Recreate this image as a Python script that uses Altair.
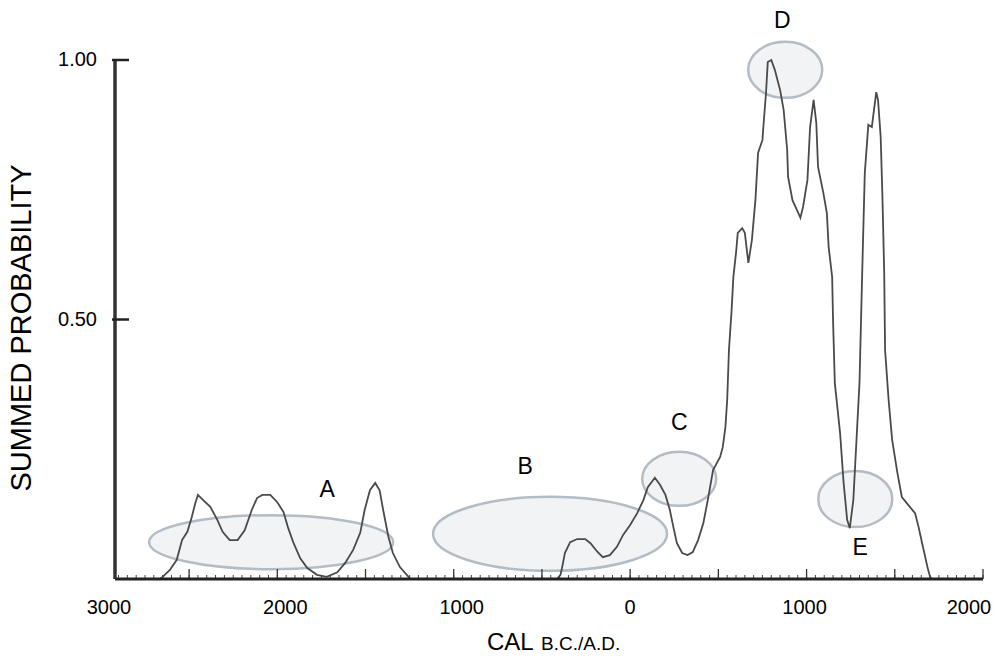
import altair as alt
import pandas as pd

FONT = "Liberation Sans, Arial, Helvetica, sans-serif"

# ---- summed probability curve (year: negative = B.C.) ----
years = [
    -2920, -2665, -2650, -2610, -2570, -2540, -2510, -2485, -2465, -2450,
    -2420, -2380, -2340, -2310, -2270, -2225, -2185, -2145, -2115, -2085,
    -2040, -2000, -1965, -1940, -1910, -1870, -1830, -1775, -1720, -1660,
    -1615, -1570, -1530, -1505, -1475, -1445, -1420, -1400, -1370, -1345,
    -1305, -1245,
    -415, -395, -385, -370, -340, -300, -255, -225, -185, -155,
    -115, -75, -40, 0, 40, 75, 100, 140, 170, 200,
    225, 245, 265, 295, 325, 355, 385, 415, 440, 470,
    510, 525, 540, 550, 560, 575, 585, 600, 610, 635,
    650, 670, 690, 710, 725, 750, 755, 770, 780, 800,
    820, 850, 870, 890, 895, 920, 945, 965, 980, 1005,
    1020, 1040, 1055, 1065, 1095, 1115, 1125, 1145, 1150, 1160,
    1190, 1210, 1230, 1245, 1265, 1285, 1300, 1310, 1320, 1330,
    1345, 1350, 1370, 1380, 1395, 1405, 1420, 1430, 1440, 1445,
    1465, 1485, 1515, 1540, 1590, 1615, 1635, 1655, 1685, 1700,
    1710, 2000,
]
prob = [
    0.0, 0.0, 0.004, 0.017, 0.037, 0.075, 0.091, 0.119, 0.146, 0.162,
    0.152, 0.139, 0.114, 0.091, 0.075, 0.075, 0.094, 0.133, 0.156, 0.162,
    0.162, 0.148, 0.129, 0.100, 0.071, 0.040, 0.021, 0.008, 0.004, 0.013,
    0.031, 0.056, 0.089, 0.133, 0.171, 0.185, 0.171, 0.133, 0.081, 0.050,
    0.023, 0.0,
    0.0, 0.008, 0.023, 0.050, 0.071, 0.077, 0.077, 0.069, 0.052, 0.042,
    0.046, 0.062, 0.085, 0.104, 0.127, 0.152, 0.177, 0.195, 0.181, 0.162,
    0.133, 0.100, 0.069, 0.050, 0.046, 0.052, 0.075, 0.108, 0.152, 0.210,
    0.235, 0.254, 0.293, 0.345, 0.441, 0.518, 0.582, 0.628, 0.667, 0.676,
    0.667, 0.609, 0.653, 0.730, 0.821, 0.846, 0.871, 0.936, 0.996, 1.000,
    0.981, 0.942, 0.904, 0.827, 0.775, 0.730, 0.711, 0.696, 0.717, 0.769,
    0.871, 0.923, 0.879, 0.794, 0.744, 0.705, 0.640, 0.582, 0.499, 0.378,
    0.281, 0.185, 0.114, 0.098, 0.152, 0.281, 0.378, 0.518, 0.653, 0.782,
    0.852, 0.875, 0.871, 0.898, 0.938, 0.923, 0.852, 0.736, 0.590, 0.441,
    0.345, 0.268, 0.204, 0.158, 0.137, 0.127, 0.100, 0.069, 0.023, 0.004,
    0.0, 0.0,
]

# ---- highlighted zones ----
zone_labels = ["A", "B", "C", "D", "E"]
zone_year = [-2035, -454, 278, 879, 1276]
zone_prob = [0.071, 0.087, 0.193, 0.981, 0.154]
zone_rx = [122, 117, 37, 37, 37]
zone_ry = [27, 37, 27, 28, 28]
letter_year = [-1718, -595, 278, 862, 1304]
letter_prob = [0.171, 0.216, 0.301, 1.076, 0.060]

# ---- axes ----
tick_label_years = [-3000, -2000, -1000, 0, 1000, 2000]
tick_label_text = ["3000", "2000", "1000", "0", "1000", "2000"]
tick_label_dx = [8, 8, 8, 0, -2, -14]
major_ticks = list(range(-2500, 2001, 500))
minor_ticks = list(range(-2900, 2001, 50))
y_ticks = [0.5, 1.0]
y_tick_text = ["0.50", "1.00"]

X_DOMAIN = [-2920, 2000]
W, H = 868, 519

xs = alt.Scale(domain=X_DOMAIN, nice=False, zero=False)
ys = alt.Scale(domain=[0, 1], nice=False, zero=False)


def ellipse_path(b, k=0.5523):
    return (f"M1,0 C1,{k*b:.4f} {k:.4f},{b:.4f} 0,{b:.4f} "
            f"C{-k:.4f},{b:.4f} -1,{k*b:.4f} -1,0 "
            f"C-1,{-k*b:.4f} {-k:.4f},{-b:.4f} 0,{-b:.4f} "
            f"C{k:.4f},{-b:.4f} 1,{-k*b:.4f} 1,0 Z")


curve = pd.DataFrame({"year": years, "p": prob})
zones = pd.DataFrame({
    "year": zone_year, "p": zone_prob,
    "size": [(2 * r) ** 2 for r in zone_rx],
    "shape": [ellipse_path(ry / rx) for rx, ry in zip(zone_rx, zone_ry)],
})
letters = pd.DataFrame({"year": letter_year, "p": letter_prob, "t": zone_labels})

X = lambda: alt.X("year:Q", scale=xs, axis=None)
Y = lambda: alt.Y("p:Q", scale=ys, axis=None)

ellipses = alt.Chart(zones).mark_point(
    filled=True, fill="#f2f3f4", stroke="#b3bcc5", strokeWidth=2.5,
    opacity=1, fillOpacity=1, strokeOpacity=1,
).encode(
    x=X(), y=Y(),
    shape=alt.Shape("shape:N", scale=None),
    size=alt.Size("size:Q", scale=None),
)

line = alt.Chart(curve).mark_line(color="#4a4a4a", strokeWidth=1.8).encode(x=X(), y=Y())

letter_marks = alt.Chart(letters).mark_text(
    font=FONT, fontSize=23, color="#000", align="center", baseline="middle"
).encode(x=X(), y=Y(), text="t:N")

one = pd.DataFrame({"a": [0]})
y_axis_line = alt.Chart(one).mark_rule(color="#333", strokeWidth=3.5).encode(
    x=alt.value(0), y=alt.value(0), y2=alt.value(H))
x_axis_line = alt.Chart(one).mark_rule(color="#222", strokeWidth=3).encode(
    x=alt.value(0), x2=alt.value(W), y=alt.value(H))

major = alt.Chart(pd.DataFrame({"year": major_ticks})).mark_rule(
    color="#333", strokeWidth=1.3).encode(x=X(), y=alt.value(H - 10), y2=alt.value(H))
minor = alt.Chart(pd.DataFrame({"year": minor_ticks})).mark_rule(
    color="#444", strokeWidth=1).encode(x=X(), y=alt.value(H - 4), y2=alt.value(H))

xl = pd.DataFrame({"year": tick_label_years, "t": tick_label_text, "dx": tick_label_dx})
xlabels = [
    alt.Chart(xl.iloc[[i]]).mark_text(
        font=FONT, fontSize=20, color="#000", align="center", baseline="alphabetic",
        dx=int(xl.dx[i]),
    ).encode(x=X(), y=alt.value(H + 35), text="t:N")
    for i in range(len(xl))
]

yt = pd.DataFrame({"p": y_ticks, "t": y_tick_text})
yticks = alt.Chart(yt).mark_rule(color="#222", strokeWidth=2.5).encode(
    x=alt.value(-3), x2=alt.value(14), y=Y())
ylabels = alt.Chart(yt).mark_text(
    font=FONT, fontSize=20, color="#000", align="right", baseline="middle"
).encode(x=alt.value(-18), y=Y(), text="t:N")

ytitle = alt.Chart(one).mark_text(
    font=FONT, fontSize=29, color="#000", angle=270, align="center", baseline="middle"
).encode(x=alt.value(-93), y=alt.value(268), text=alt.value("SUMMED PROBABILITY"))

xtitle1 = alt.Chart(one).mark_text(
    font=FONT, fontSize=24, color="#000", align="left", baseline="alphabetic"
).encode(x=alt.value(372), y=alt.value(590), text=alt.value("CAL"))
xtitle2 = alt.Chart(one).mark_text(
    font=FONT, fontSize=19, color="#000", align="left", baseline="alphabetic"
).encode(x=alt.value(426), y=alt.value(590), text=alt.value("B.C./A.D."))

chart = alt.layer(
    ellipses, line, letter_marks, minor, major, x_axis_line, y_axis_line,
    yticks, ylabels, *xlabels, ytitle, xtitle1, xtitle2,
).properties(
    width=W, height=H,
    padding={"left": 107, "top": 52, "right": 8, "bottom": 73},
    autosize=alt.AutoSizeParams(type="none"),
    background="white",
).configure_view(stroke=None)

chart.save("out.html", embed_options={"renderer": "svg", "actions": False})
